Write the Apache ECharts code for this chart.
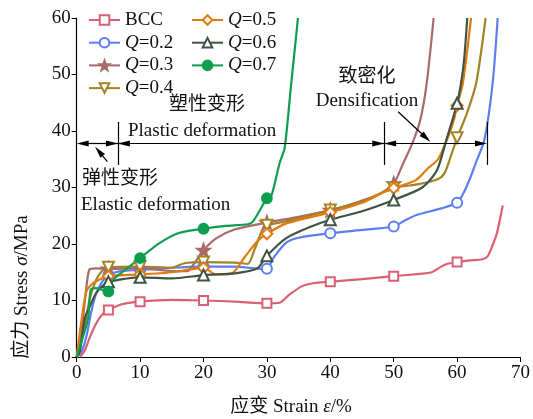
<!DOCTYPE html>
<html>
<head>
<meta charset="utf-8">
<script src="https://cdn.jsdelivr.net/npm/echarts@6/dist/echarts.min.js"></script>
<style>
html, body { margin: 0; padding: 0; background: #fff; }
#chart { width: 533px; height: 419px; }
</style>
</head>
<body>
<div id="chart"></div>
<script>
// strain (%) / stress (MPa)
const bccStrain = [0.5, 1.2, 2, 3, 4, 5, 7, 10, 15, 20, 25, 30, 32, 33.5, 35.5, 37.5, 40, 45, 50, 53, 56, 57.5, 58.5, 60, 62, 64, 64.8, 65.5, 66.3, 67.2]
const bccStress = [0, 1, 3.3, 5.8, 7.5, 8.3, 9.3, 9.8, 10.1, 10, 9.8, 9.5, 9.6, 11, 12.5, 13.1, 13.3, 13.8, 14.3, 14.6, 15, 16, 16.5, 16.8, 17.1, 17.3, 17.8, 19.5, 22, 26.8]
const bccMarks = [5, 10, 20, 30, 40, 50, 60]

const q2Strain = [0, 0.8, 1.6, 2.3, 3, 4, 5, 7, 10, 15, 20, 25, 28, 30, 31, 33, 35, 40, 45, 50, 51.5, 53.5, 57.5, 60, 61, 62, 63, 64.3, 65.6, 66.4]
const q2Stress = [0, 1, 4, 8, 11, 13.3, 14.5, 15.2, 15.4, 15.8, 16, 16, 15.7, 15.6, 17.5, 20.2, 21.1, 21.9, 22.5, 23.1, 24, 25.1, 26.3, 27.3, 29, 31.5, 34.5, 38.4, 48.4, 60]
const q2Marks = [5, 10, 20, 30, 40, 50, 60]

const q3Strain = [0, 0.8, 1.5, 2, 3, 5, 10, 15, 17.5, 18.5, 20, 22, 25, 30, 35, 40, 44, 47.5, 50, 51.5, 53, 54.2, 55.2, 56.3]
const q3Stress = [0, 5, 12, 15.5, 15.7, 15.6, 15.7, 15.2, 15.2, 16.5, 18.9, 21, 22.6, 23.8, 24.8, 26, 27.3, 28.7, 30.7, 34.3, 38, 42, 48.4, 60]
const q3Marks = [5, 10, 20, 30, 40, 50]

const q4Strain = [0, 1, 2, 3, 4, 5, 10, 15, 17, 20, 25, 27, 28, 29.4, 30, 33, 40, 45, 50, 54, 57, 58, 59, 60, 61.5, 63, 64.5]
const q4Stress = [0, 4, 10, 13.5, 15.2, 15.9, 16, 15.8, 16.6, 16.8, 16.7, 16.5, 18.9, 22.8, 23.3, 24, 26, 27.5, 29.9, 30.6, 31.5, 32.5, 35.5, 38.8, 43, 48.4, 60]
const q4Marks = [5, 10, 20, 30, 40, 50, 60]

const q5Strain = [0, 0.7, 1.5, 2.5, 5, 10, 15, 18, 20, 22, 24.5, 26.5, 28.5, 30, 33, 40, 45, 48.5, 50, 53.5, 55.5, 57, 58.6, 59.5, 60, 60.9, 62.2]
const q5Stress = [0, 6, 11.5, 13, 14.3, 14.6, 15, 15.5, 15.8, 14.6, 14.8, 17.7, 20.5, 21.8, 23.6, 25.6, 27.3, 29.2, 29.9, 31.3, 33.5, 35, 39, 42, 44.5, 48.4, 60]
const q5Marks = [5, 10, 20, 30, 40, 50, 60]

const q6Strain = [0, 0.5, 1.3, 2.1, 3, 4.2, 5, 10, 15, 20, 25, 28.5, 30, 33, 37, 40, 45, 50, 54.5, 56.8, 58.3, 60, 61, 61.6]
const q6Stress = [0, 1, 7, 9, 11.2, 12.7, 13.3, 14.1, 13.9, 14.5, 14.8, 15.7, 17.9, 21, 23.1, 24.3, 25.8, 27.8, 30, 33, 38.4, 44.9, 51.5, 60]
const q6Marks = [5, 10, 20, 30, 40, 50, 60]

const q7Strain = [0, 1, 1.8, 2.2, 3, 4, 5, 5.7, 7.3, 10, 13, 16, 20, 23.5, 27, 27.8, 28.6, 30, 30.7, 31.3, 32, 32.8, 33.8, 34.9]
const q7Stress = [0, 3.6, 6.8, 11.9, 12.2, 11.9, 11.6, 13.6, 15.1, 17.5, 20.1, 21.9, 22.7, 23.2, 23.5, 24, 25.4, 28.1, 28.6, 31, 34.3, 37, 48, 60]
const q7Marks = [5, 10, 20, 30]

const xTicks = [0, 10, 20, 30, 40, 50, 60, 70]
const yTicks = [0, 10, 20, 30, 40, 50, 60]

const serif = '"Liberation Serif", "Times New Roman", "Noto Sans CJK SC", serif'
const star = 'path://M0,-10 L2.35,-3.24 L9.51,-3.09 L3.8,1.24 L5.88,8.09 L0,4 L-5.88,8.09 L-3.8,1.24 L-9.51,-3.09 L-2.35,-3.24 Z'

function points(xs, ys, marks) {
    return xs.map((x, i) => {
        if (marks.indexOf(x) >= 0) return [x, ys[i]]
        return { value: [x, ys[i]], symbol: 'none' }
    })
}

function curve(name, color, symbol, size, xs, ys, marks, extra) {
    return Object.assign({
        name: name,
        type: 'line',
        smooth: 0.25,
        symbol: symbol,
        symbolSize: size,
        showSymbol: true,
        showAllSymbol: true,
        lineStyle: { color: color, width: 2.2 },
        itemStyle: { color: color, borderColor: color, borderWidth: 1.8 },
        data: points(xs, ys, marks)
    }, extra || {})
}

// annotation arrows, in data coordinates
// arrow heads are centred on the end point, so pull them in by half a head (~0.94 %)
const yArrow = 37.8
const h = 0.94
const arrowLines = [
    [{ coord: [0 + h, yArrow], symbol: 'triangle' }, { coord: [6.5 - h, yArrow], symbol: 'triangle' }],
    [{ coord: [6.5 + h, yArrow], symbol: 'triangle' }, { coord: [48.5 - h, yArrow], symbol: 'triangle' }],
    [{ coord: [48.5 + h, yArrow], symbol: 'triangle' }, { coord: [64.7 - h, yArrow], symbol: 'triangle' }],
    [{ coord: [6.5 - h, yArrow], symbol: 'none' }, { coord: [6.5 + h, yArrow], symbol: 'none' }],
    [{ coord: [48.5 - h, yArrow], symbol: 'none' }, { coord: [48.5 + h, yArrow], symbol: 'none' }],
    [{ coord: [6.5, 34], symbol: 'none' }, { coord: [6.5, 41.6], symbol: 'none' }],
    [{ coord: [48.5, 34], symbol: 'none' }, { coord: [48.5, 41.6], symbol: 'none' }],
    [{ coord: [64.7, 34], symbol: 'none' }, { coord: [64.7, 41.6], symbol: 'none' }],
    [{ coord: [4.84, 34.6], symbol: 'none' }, { coord: [3.5, 36.4], symbol: 'triangle' }],
    [{ coord: [50.7, 43.4], symbol: 'none' }, { coord: [55.1, 38.8], symbol: 'triangle' }]
]

const legendText = {
    fontFamily: serif, fontSize: 19, color: '#111', lineHeight: 20,
    rich: { i: { fontFamily: serif, fontSize: 19, fontStyle: 'italic', color: '#111', lineHeight: 20 } }
}
const legendFmt = name => name === 'BCC' ? name : '{i|Q}' + name.slice(1)

const chart = echarts.init(document.getElementById('chart'))
chart.setOption({
    animation: false,
    backgroundColor: '#fff',
    grid: { left: 76.7, right: 8.3, top: 18, bottom: 62, containLabel: false },
    legend: [{
        data: ['BCC', 'Q=0.2', 'Q=0.3', 'Q=0.4'],
        orient: 'vertical', left: 83, top: 5,
        itemWidth: 31, itemHeight: 12, itemGap: 2.7,
        formatter: legendFmt, textStyle: legendText
    }, {
        data: ['Q=0.5', 'Q=0.6', 'Q=0.7'],
        orient: 'vertical', left: 186, top: 5,
        itemWidth: 31, itemHeight: 12, itemGap: 2.7,
        formatter: legendFmt, textStyle: legendText
    }],
    xAxis: {
        type: 'value', min: 0, max: 70, interval: 10,
        axisLine: { lineStyle: { color: '#000', width: 1.2 } },
        axisTick: { length: 5, lineStyle: { color: '#000' } },
        axisLabel: { fontFamily: serif, fontSize: 19, color: '#111', margin: 7,
            formatter: v => xTicks.indexOf(v) >= 0 ? String(v) : '' },
        splitLine: { show: false }
    },
    yAxis: {
        type: 'value', min: 0, max: 60, interval: 10,
        axisLine: { show: true, lineStyle: { color: '#000', width: 1.2 } },
        axisTick: { show: true, length: 5, lineStyle: { color: '#000' } },
        axisLabel: { fontFamily: serif, fontSize: 19, color: '#111', margin: 6,
            formatter: v => yTicks.indexOf(v) >= 0 ? String(v) : '' },
        splitLine: { show: false }
    },
    graphic: [
        { type: 'text', x: 291, y: 407, style: { text: '应变 Strain {i|ε}/%', font: '19px ' + serif, fill: '#111', align: 'center', verticalAlign: 'middle',
            rich: { i: { fontStyle: 'italic', fontFamily: serif, fontSize: 19, fill: '#111' } } } },
        { type: 'text', x: 22, y: 287, rotation: Math.PI / 2, style: { text: '应力 Stress {i|σ}/MPa', font: '19px ' + serif, fill: '#111', align: 'center', verticalAlign: 'middle',
            rich: { i: { fontStyle: 'italic', fontFamily: serif, fontSize: 19, fill: '#111' } } } },
        { type: 'text', x: 207, y: 105, style: { text: '塑性变形', font: '19px ' + serif, fill: '#111', align: 'center', verticalAlign: 'middle' } },
        { type: 'text', x: 128, y: 131, style: { text: 'Plastic deformation', font: '19px ' + serif, fill: '#111', align: 'left', verticalAlign: 'middle' } },
        { type: 'text', x: 82, y: 179, style: { text: '弹性变形', font: '19px ' + serif, fill: '#111', align: 'left', verticalAlign: 'middle' } },
        { type: 'text', x: 81, y: 205, style: { text: 'Elastic deformation', font: '19px ' + serif, fill: '#111', align: 'left', verticalAlign: 'middle' } },
        { type: 'text', x: 367, y: 77, style: { text: '致密化', font: '19px ' + serif, fill: '#111', align: 'center', verticalAlign: 'middle' } },
        { type: 'text', x: 367, y: 101, style: { text: 'Densification', font: '19px ' + serif, fill: '#111', align: 'center', verticalAlign: 'middle' } }
    ],
    series: [
        curve('BCC', '#d95f73', 'emptyRect', 9, bccStrain, bccStress, bccMarks, {
            markLine: {
                silent: true, symbolSize: [6, 12], animation: false,
                label: { show: false },
                lineStyle: { color: '#000', width: 1.2, type: 'solid' },
                emphasis: { disabled: true },
                data: arrowLines
            }
        }),
        curve('Q=0.2', '#5b7ff2', 'emptyCircle', 10, q2Strain, q2Stress, q2Marks),
        curve('Q=0.3', '#a86a6a', star, 13, q3Strain, q3Stress, q3Marks),
        curve('Q=0.4', '#a08522', 'emptyTriangle', 11, q4Strain, q4Stress, q4Marks, { symbolRotate: 180 }),
        curve('Q=0.5', '#e27a0e', 'emptyDiamond', 11, q5Strain, q5Stress, q5Marks),
        curve('Q=0.6', '#3f5443', 'emptyTriangle', 11, q6Strain, q6Stress, q6Marks),
        curve('Q=0.7', '#0f9d4f', 'circle', 10, q7Strain, q7Stress, q7Marks)
    ]
})
</script>
</body>
</html>
